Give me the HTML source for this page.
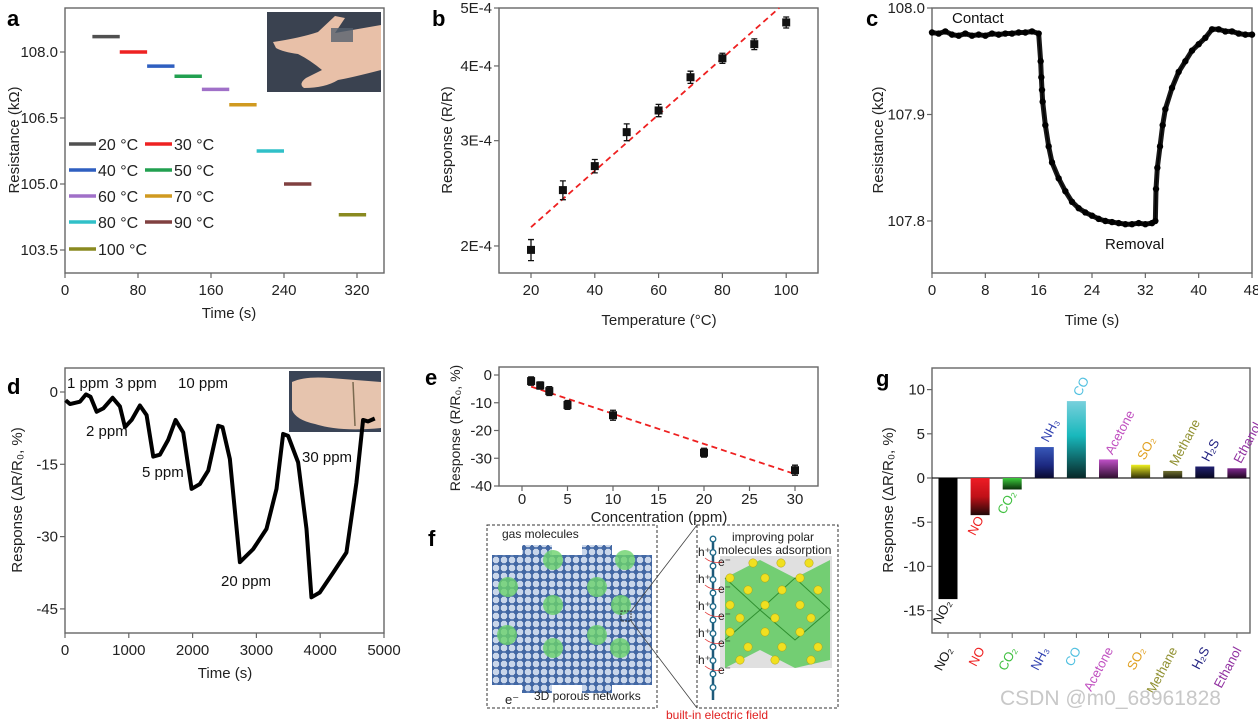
<!DOCTYPE html>
<html><head><meta charset="utf-8">
<style>
html,body{margin:0;padding:0;background:#fff;}
svg{display:block;font-family:"Liberation Sans",Arial,sans-serif;}
</style></head>
<body>
<svg id="fig" width="1258" height="721" viewBox="0 0 1258 721" xmlns="http://www.w3.org/2000/svg">
<defs>
<pattern id="lat" width="8" height="8" patternUnits="userSpaceOnUse">
<rect width="8" height="8" fill="#c9d6ea"/>
<path d="M0 4h8M4 0v8" stroke="#3a64a6" stroke-width="1.6"/>
<circle cx="4" cy="4" r="2" fill="none" stroke="#2c4f8c" stroke-width="0.8"/>
</pattern>
<linearGradient id="gNO" x1="0" y1="0" x2="0" y2="1"><stop offset="0" stop-color="#ee1c24"/><stop offset="0.5" stop-color="#c01018"/><stop offset="1" stop-color="#200808"/></linearGradient>
<linearGradient id="gCO2" x1="0" y1="0" x2="0" y2="1"><stop offset="0" stop-color="#3ccc3c"/><stop offset="1" stop-color="#0a300a"/></linearGradient>
<linearGradient id="gNH3" x1="0" y1="0" x2="0" y2="1"><stop offset="0" stop-color="#3858b8"/><stop offset="0.6" stop-color="#1c2880"/><stop offset="1" stop-color="#0a0a30"/></linearGradient>
<linearGradient id="gCO" x1="0" y1="0" x2="0" y2="1"><stop offset="0" stop-color="#78d0dc"/><stop offset="0.45" stop-color="#18b8bc"/><stop offset="1" stop-color="#082828"/></linearGradient>
<linearGradient id="gAc" x1="0" y1="0" x2="0" y2="1"><stop offset="0" stop-color="#c050c8"/><stop offset="1" stop-color="#301030"/></linearGradient>
<linearGradient id="gSO" x1="0" y1="0" x2="0" y2="1"><stop offset="0" stop-color="#f0f020"/><stop offset="1" stop-color="#303008"/></linearGradient>
<linearGradient id="gMe" x1="0" y1="0" x2="0" y2="1"><stop offset="0" stop-color="#707030"/><stop offset="1" stop-color="#202010"/></linearGradient>
<linearGradient id="gH2S" x1="0" y1="0" x2="0" y2="1"><stop offset="0" stop-color="#202070"/><stop offset="1" stop-color="#080820"/></linearGradient>
<linearGradient id="gEt" x1="0" y1="0" x2="0" y2="1"><stop offset="0" stop-color="#802890"/><stop offset="1" stop-color="#200820"/></linearGradient>
</defs>
</svg>
<script>
// ---------- DATA ----------
// panel a
const aLabels=['20 °C','30 °C','40 °C','50 °C','60 °C','70 °C','80 °C','90 °C','100 °C'];
const aStart=[30,60,90,120,150,180,210,240,300];
const aRes=[108.35,108.0,107.68,107.45,107.15,106.8,105.75,105.0,104.3];
const aXTicks=[0,80,160,240,320];
const aYTicks=[108.0,106.5,105.0,103.5];
// panel b
const bTemp=[20,30,40,50,60,70,80,90,100];
const bResp=[1.97e-4,2.48e-4,2.72e-4,3.1e-4,3.37e-4,3.83e-4,4.12e-4,4.35e-4,4.73e-4];
const bErr=[0.08e-4,0.09e-4,0.07e-4,0.1e-4,0.08e-4,0.09e-4,0.08e-4,0.09e-4,0.1e-4];
const bFitT=[20,97.8];
const bFitV=[2.15e-4,5e-4];
const bXTicks=[20,40,60,80,100];
const bYTicks=[2e-4,3e-4,4e-4,5e-4];
const bYLabels=['2E-4','3E-4','4E-4','5E-4'];
// panel c
const cTime=[0,1,2,3,4,5,6,7,8,9,10,11,12,13,14,15,16,16.3,16.4,16.5,16.6,17,17.5,18,19,20,21,22,23,24,25,26,27,28,29,30,31,32,33,33.5,33.6,33.8,34.2,34.6,35,36,37,38,39,40,41,42,43,44,45,46,47,48];
const cRes=[107.977,107.976,107.978,107.975,107.974,107.976,107.974,107.975,107.974,107.976,107.975,107.976,107.976,107.977,107.977,107.978,107.976,107.95,107.935,107.923,107.912,107.89,107.87,107.855,107.84,107.828,107.818,107.812,107.808,107.805,107.802,107.8,107.799,107.798,107.797,107.797,107.798,107.797,107.798,107.8,107.83,107.85,107.87,107.89,107.905,107.925,107.94,107.95,107.96,107.966,107.972,107.98,107.98,107.978,107.978,107.976,107.975,107.975];
const cXTicks=[0,8,16,24,32,40,48];
const cYTicks=[108.0,107.9,107.8];
// panel d
const dTime=[10,78,235,329,400,496,600,746,861,940,1044,1174,1279,1383,1488,1618,1733,1853,1984,2114,2245,2401,2469,2584,2741,2949,3158,3315,3419,3497,3654,3785,3863,3993,4202,4411,4568,4672,4750,4855];
const dResp=[-1.7,-2.5,-2,-0.5,-1,-4.1,-3.4,-1.2,-3,-7.3,-5.8,-2.8,-4.8,-13.4,-13,-9.9,-5.8,-8.4,-20.1,-19.1,-16.3,-7,-7.3,-13.9,-35.3,-32.6,-28.4,-20.1,-8.7,-9.1,-14.6,-28.4,-42.6,-41.6,-37.5,-33.3,-18.8,-5.8,-6.1,-5.5];
const dXTicks=[0,1000,2000,3000,4000,5000];
const dYTicks=[0,-15,-30,-45];
// panel e
const eConc=[1,2,3,5,10,20,30];
const eResp=[-2.2,-3.8,-5.8,-10.8,-14.5,-28,-34.3];
const eErr=[1.5,1.3,1.6,1.6,1.8,1.6,1.8];
const eFitC=[1,30];
const eFitV=[-4.2,-35.7];
const eXTicks=[0,5,10,15,20,25,30];
const eYTicks=[0,-10,-20,-30,-40];
// panel g
const gGases=['NO₂','NO','CO₂','NH₃','CO','Acetone','SO₂','Methane','H₂S','Ethanol'];
const gResp=[-13.7,-4.2,-1.3,3.5,8.7,2.1,1.5,0.8,1.3,1.1];
const gYTicks=[10,5,0,-5,-10,-15];

// ---------- HELPERS ----------
const NS='http://www.w3.org/2000/svg';
const svg=document.getElementById('fig');
function el(tag,attrs,parent){const e=document.createElementNS(NS,tag);for(const k in attrs)e.setAttribute(k,attrs[k]);(parent||svg).appendChild(e);return e;}
function txt(s,attrs,parent){const t=el('text',attrs,parent);t.textContent=s;return t;}
function grp(name){const g=el('g',{});return g;}
function frame(g,x0,y0,x1,y1){const r=el('rect',{x:x0,y:y0,width:x1-x0,height:y1-y0,fill:'none',stroke:'#666','stroke-width':1.4},g);}
function xticks(g,vals,labels,fx,yb,fs,off){vals.forEach((v,i)=>{const x=fx(v);const l=el('line',{x1:x,y1:yb,x2:x,y2:yb+5,stroke:'#666','stroke-width':1.2},g);const t=txt(labels[i],{x:x,y:yb+(off||22),'text-anchor':'middle','font-size':fs||15,fill:'#222'},g);});}
function yticks(g,vals,labels,fy,xl,fs){vals.forEach((v,i)=>{const y=fy(v);const l=el('line',{x1:xl-5,y1:y,x2:xl,y2:y,stroke:'#666','stroke-width':1.2},g);const t=txt(labels[i],{x:xl-7,y:y+5,'text-anchor':'end','font-size':fs||15,fill:'#222'},g);});}
function ytitle(g,s,x,y,fs){const t=txt(s,{x:x,y:y,'text-anchor':'middle','font-size':fs||15,fill:'#222',transform:`rotate(-90 ${x} ${y})`},g);return t;}
function xtitle(g,s,x,y,fs){const t=txt(s,{x:x,y:y,'text-anchor':'middle','font-size':fs||15,fill:'#222'},g);return t;}
function plabel(s,x,y){const t=txt(s,{x:x,y:y,'font-size':22,'font-weight':'bold',fill:'#000'});}

// ---------- PANEL A ----------
(function(){
const g=grp('panel-a');
const ax=t=>65+t*0.9125, ay=v=>52+(108-v)*44;
const cols=['#505050','#ee2222','#2f5fc0','#22a050','#a070c8','#d09a20','#30c0c8','#804040','#8a8a20'];
frame(g,65,8,384,273);
xticks(g,aXTicks,aXTicks.map(String),ax,273);
yticks(g,aYTicks,aYTicks.map(v=>v.toFixed(1)),ay,65);
ytitle(g,'Resistance (kΩ)',19,140);
xtitle(g,'Time (s)',229,318);
const ph=el('g',{},g);
el('rect',{x:267,y:12,width:114,height:80,fill:'#3a4250'},ph);
el('path',{d:'M273 42 Q300 38 318 32 L335 16 L345 18 L335 33 L381 25 L381 70 Q350 78 338 80 Q325 88 304 88 Q298 84 306 78 L322 70 Q310 60 298 54 Q283 52 276 48 Z',fill:'#e8c0a8'},ph);
el('rect',{x:331,y:28,width:22,height:14,fill:'#55606e',opacity:0.8},ph);
aStart.forEach((s,i)=>{const l=el('line',{x1:ax(s),x2:ax(s+30),y1:ay(aRes[i]),y2:ay(aRes[i]),stroke:cols[i],'stroke-width':3.5},g);});
const ly=[144,170,196,222,249];
aLabels.forEach((s,i)=>{const r=Math.floor(i/2),c=i%2;const x0=c?145:69;const l=el('line',{x1:x0,x2:x0+27,y1:ly[r],y2:ly[r],stroke:cols[i],'stroke-width':3.5},g);const t=txt(s,{x:x0+29,y:ly[r]+6,'font-size':16,fill:'#222'},g);});
})();

// ---------- PANEL B ----------
(function(){
const g=grp('panel-b');
const bx=T=>531+(T-20)*3.19, by=v=>8+598*Math.log10(5e-4/v);
frame(g,499,8,818,273);
xticks(g,bXTicks,bXTicks.map(String),bx,273);
yticks(g,bYTicks,bYLabels,by,499);
ytitle(g,'Response (R/R)',452,140);
xtitle(g,'Temperature (°C)',659,325);
const f=el('line',{x1:bx(bFitT[0]),y1:by(bFitV[0]),x2:bx(bFitT[1]),y2:by(bFitV[1]),stroke:'#ee2020','stroke-width':1.8,'stroke-dasharray':'6 4'},g);

bTemp.forEach((T,i)=>{const x=bx(T),y=by(bResp[i]);const e=el('path',{d:`M${x} ${by(bResp[i]+bErr[i])}V${by(bResp[i]-bErr[i])}M${x-3} ${by(bResp[i]+bErr[i])}h6M${x-3} ${by(bResp[i]-bErr[i])}h6`,stroke:'#111','stroke-width':1.3,fill:'none'},g);const p=el('rect',{x:x-4,y:y-4,width:8,height:8,fill:'#111'},g);});
})();

// ---------- PANEL C ----------
(function(){
const g=grp('panel-c');
const cx=t=>932+t*6.667, cy=v=>8+(108-v)*1065;
frame(g,932,8,1252,273);
xticks(g,cXTicks,cXTicks.map(String),cx,273);
yticks(g,cYTicks,cYTicks.map(v=>v.toFixed(1)),cy,932);
ytitle(g,'Resistance (kΩ)',883,140);
xtitle(g,'Time (s)',1092,325);
const pts=cTime.map((t,i)=>cx(t)+','+cy(cRes[i])).join(' ');
const pl=el('polyline',{points:pts,fill:'none',stroke:'#000','stroke-width':1.5},g);
cTime.forEach((t,i)=>{const c=el('circle',{cx:cx(t),cy:cy(cRes[i]),r:3.2,fill:'#000'},g);});
const th=el('polyline',{points:pts,fill:'none',stroke:'#000','stroke-width':5,'stroke-linejoin':'round',opacity:0.9},g);
const t1=txt('Contact',{x:952,y:23,'font-size':15,fill:'#111'},g);
const t2=txt('Removal',{x:1105,y:249,'font-size':15,fill:'#111'},g);
})();

// ---------- PANEL D ----------
(function(){
const g=grp('panel-d');
const dx=t=>65+t*0.0638, dy=v=>392-v*4.82;
frame(g,65,368,384,633);
xticks(g,dXTicks,dXTicks.map(String),dx,633);
yticks(g,dYTicks,dYTicks.map(String),dy,65);
ytitle(g,'Response (ΔR/R₀, %)',22,500);
xtitle(g,'Time (s)',225,678);
const ph=el('g',{},g);
el('rect',{x:289,y:371,width:92,height:61,fill:'#3a4456'},ph);
el('path',{d:'M292 382 Q305 376 330 378 L381 382 L381 428 Q340 432 315 424 Q296 420 292 410 Z',fill:'#e6c4ae'},ph);
el('line',{x1:353,y1:382,x2:355,y2:426,stroke:'#7a6a50','stroke-width':1.5},ph);
const pl=el('polyline',{points:dTime.map((t,i)=>dx(t)+','+dy(dResp[i])).join(' '),fill:'none',stroke:'#000','stroke-width':4,'stroke-linejoin':'round'},g);

const ann=[['1 ppm',67,388],['3 ppm',115,388],['10 ppm',178,388],['2 ppm',86,436],['5 ppm',142,477],['20 ppm',221,586],['30 ppm',302,462]];
ann.forEach(a=>{const t=txt(a[0],{x:a[1],y:a[2],'font-size':15,fill:'#111'},g);});
})();

// ---------- PANEL E ----------
(function(){
const g=grp('panel-e');
const ex=c=>522+c*9.1, ey=v=>375-v*2.775;
frame(g,499,367,818,486);
xticks(g,eXTicks,eXTicks.map(String),ex,486,15,18);
yticks(g,eYTicks,eYTicks.map(String),ey,499);
ytitle(g,'Response (R/R₀, %)',460,428,14);
xtitle(g,'Concentration (ppm)',659,522);
const f=el('line',{x1:ex(eFitC[0]),y1:ey(eFitV[0]),x2:ex(eFitC[1]),y2:ey(eFitV[1]),stroke:'#ee2020','stroke-width':1.8,'stroke-dasharray':'6 4'},g);

eConc.forEach((c,i)=>{const x=ex(c),y=ey(eResp[i]);const e=el('path',{d:`M${x} ${ey(eResp[i]+eErr[i])}V${ey(eResp[i]-eErr[i])}M${x-3} ${ey(eResp[i]+eErr[i])}h6M${x-3} ${ey(eResp[i]-eErr[i])}h6`,stroke:'#111','stroke-width':1.3,fill:'none'},g);const p=el('rect',{x:x-4,y:y-4,width:8,height:8,fill:'#111'},g);});
})();

// ---------- PANEL F (illustration) ----------
(function(){
const g=grp('panel-f');
const b1=el('rect',{x:487,y:525,width:170,height:183,fill:'none',stroke:'#333','stroke-dasharray':'3 2'},g);
const b2=el('rect',{x:697,y:525,width:141,height:183,fill:'none',stroke:'#333','stroke-dasharray':'3 2'},g);
const lat=el('path',{d:'M492 555 h30 v-10 h30 v10 h30 v-10 h30 v10 h40 v130 h-40 v8 h-30 v-8 h-30 v8 h-30 v-8 h-30 z',fill:'url(#lat)'},g);
[[553,560],[625,560],[508,587],[597,587],[553,605],[621,605],[507,635],[597,635],[553,648],[620,648]].forEach(p=>{const c=el('circle',{cx:p[0],cy:p[1],r:10,fill:'#6cd26c',opacity:0.8},g);});
el('rect',{x:621,y:611,width:10,height:10,fill:'none',stroke:'#333','stroke-dasharray':'2 1'},g);
el('path',{d:'M631 611 L697 525 M631 621 L697 708',stroke:'#444','stroke-width':0.8},g);
const t1=txt('gas molecules',{x:502,y:538,'font-size':12,fill:'#222'},g);
const t2=txt('3D porous networks',{x:534,y:700,'font-size':12,fill:'#222'},g);
const t3=txt('e⁻',{x:505,y:704,'font-size':13,fill:'#222'},g);
el('rect',{x:720,y:556,width:112,height:112,fill:'#e0e0e0'},g);
const cr=el('path',{d:'M725 578 L760 560 L795 578 L830 560 L830 660 L795 668 L760 650 L725 668 Z',fill:'#4fc84f',opacity:0.75},g);
el('path',{d:'M725 578 L760 610 L795 578 L830 610 M725 640 L760 610 L795 640 L830 610',stroke:'#2f8f2f','stroke-width':1,fill:'none'},g);
[[753,563],[781,563],[809,563],[730,578],[765,578],[800,578],[748,590],[782,590],[818,590],[730,605],[765,605],[800,605],[740,618],[775,618],[811,618],[730,632],[765,632],[800,632],[748,647],[782,647],[818,647],[740,660],[775,660],[811,660]].forEach(p=>{const c=el('circle',{cx:p[0],cy:p[1],r:4.2,fill:'#f0e020',stroke:'#b0a010','stroke-width':0.5},g);});
const ch=el('line',{x1:713,y1:537,x2:713,y2:700,stroke:'#1f5a7a','stroke-width':2.5},g);
for(let y=539;y<=700;y+=13.5){el('circle',{cx:713,cy:y,r:2.8,fill:'#fff',stroke:'#1f6a8a','stroke-width':1.3},g);}
[556,583,610,637,664].forEach(y=>{txt('h⁺',{x:698,y:y,'font-size':12,fill:'#222'},g);txt('e⁻',{x:718,y:y+10,'font-size':12,fill:'#222'},g);el('path',{d:`M705 ${y+2} Q712 ${y+8} 722 ${y+6}`,stroke:'#e03030','stroke-width':0.8,fill:'none'},g);});
const t4=txt('improving polar',{x:732,y:541,'font-size':12,fill:'#222'},g);
txt('molecules adsorption',{x:718,y:554,'font-size':12,fill:'#222'},g);
const t5=txt('built-in electric field',{x:666,y:719,'font-size':12,fill:'#e02020'},g);
})();

// ---------- PANEL G ----------
(function(){
const g=grp('panel-g');
const gx=i=>948+i*32.1, gy=v=>478-v*8.84;
const fills=['#000','url(#gNO)','url(#gCO2)','url(#gNH3)','url(#gCO)','url(#gAc)','url(#gSO)','url(#gMe)','url(#gH2S)','url(#gEt)'];
const lcols=['#111','#ee2020','#40c040','#3040b0','#50c0e0','#c050c0','#e0a020','#909030','#202080','#9030a0'];
frame(g,932,368,1250,633);
yticks(g,gYTicks,gYTicks.map(String),gy,932);
ytitle(g,'Response (ΔR/R₀, %)',893,500);
const z=el('line',{x1:932,x2:1250,y1:gy(0),y2:gy(0),stroke:'#222','stroke-width':1.3},g);
gGases.forEach((s,i)=>{const v=gResp[i],x=gx(i);const b=el('rect',{x:x-9.5,y:Math.min(gy(v),gy(0)),width:19,height:Math.abs(gy(v)-gy(0)),fill:fills[i]},g);
const tk=el('line',{x1:x,x2:x,y1:633,y2:638,stroke:'#666'},g);
const ly=v>=0?gy(v)-4:gy(v)+4;const anchor=v>=0?'start':'end';
const t=txt(s,{x:x+4,y:ly,'font-size':13,fill:lcols[i],'text-anchor':anchor,transform:`rotate(-62 ${x+4} ${ly})`},g);
const t2=txt(s,{x:x+5,y:650,'font-size':13,fill:lcols[i],'text-anchor':'end',transform:`rotate(-62 ${x+5} 650)`},g);});
})();

plabel('a',7,26);plabel('b',432,26);plabel('c',866,26);plabel('d',7,394);plabel('e',425,385);plabel('f',428,546);plabel('g',876,386);
const wm=txt('CSDN @m0_68961828',{x:1000,y:705,'font-size':21,fill:'#c8c8c8'});


</script>
</body></html>
